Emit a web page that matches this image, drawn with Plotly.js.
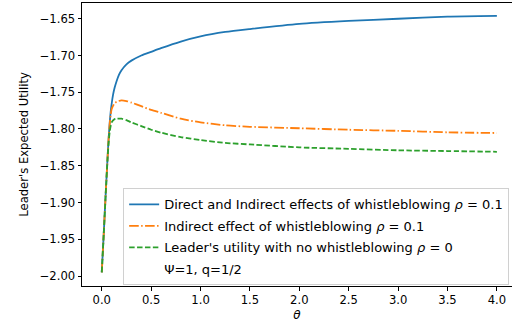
<!DOCTYPE html>
<html>
<head>
<meta charset="utf-8">
<script src="https://cdn.plot.ly/plotly-3.0.1.min.js"></script>
<style>html,body{margin:0;padding:0;background:#fff;}#chart{width:512px;height:325px;}</style>
</head>
<body>
<div id="chart"></div>
<script>
// theta values for each series
var thetaBlue = [0, 0.02, 0.04, 0.06, 0.07, 0.08, 0.09, 0.1, 0.115, 0.13, 0.15, 0.175, 0.2, 0.25, 0.3, 0.4, 0.5, 0.6, 0.8, 1.0, 1.25, 1.5, 2.0, 2.5, 3.0, 3.5, 4.0];
var directIndirect = [-1.995, -1.943, -1.888, -1.836, -1.812, -1.792, -1.777, -1.766, -1.753, -1.744, -1.735, -1.726, -1.720, -1.712, -1.707, -1.700, -1.695, -1.690, -1.681, -1.674, -1.668, -1.664, -1.657, -1.653, -1.650, -1.647, -1.646];

var thetaOrange = [0, 0.02, 0.04, 0.06, 0.07, 0.08, 0.09, 0.1, 0.125, 0.15, 0.2, 0.25, 0.3, 0.4, 0.5, 0.6, 0.8, 1.0, 1.25, 1.5, 2.0, 2.5, 3.0, 3.5, 4.0];
var indirectOnly = [-1.995, -1.943, -1.888, -1.836, -1.812, -1.794, -1.781, -1.773, -1.766, -1.763, -1.761, -1.762, -1.764, -1.769, -1.774, -1.778, -1.786, -1.791, -1.795, -1.797, -1.799, -1.801, -1.8025, -1.8045, -1.8055];

var thetaGreen = [0, 0.02, 0.04, 0.06, 0.07, 0.08, 0.09, 0.1, 0.125, 0.15, 0.2, 0.25, 0.3, 0.4, 0.5, 0.6, 0.8, 1.0, 1.25, 1.5, 2.0, 2.5, 3.0, 3.5, 4.0];
var noWhistle = [-1.995, -1.943, -1.888, -1.838, -1.818, -1.804, -1.796, -1.791, -1.787, -1.786, -1.786, -1.788, -1.791, -1.796, -1.801, -1.805, -1.811, -1.815, -1.819, -1.821, -1.825, -1.827, -1.829, -1.830, -1.831];

var seriesNames = [
  "Direct and Indirect effects of whistleblowing <i>ρ</i> = 0.1",
  "Indirect effect of whistleblowing <i>ρ</i> = 0.1",
  "Leader's utility with no whistleblowing <i>ρ</i> = 0",
  "Ψ=1, q=1/2"
];
var yTickVals = [-2.00, -1.95, -1.90, -1.85, -1.80, -1.75, -1.70, -1.65];
var yTickText = ["−2.00", "−1.95", "−1.90", "−1.85", "−1.80", "−1.75", "−1.70", "−1.65"];
var xTickVals = [0, 0.5, 1, 1.5, 2, 2.5, 3, 3.5, 4];
var xTickText = ["0.0", "0.5", "1.0", "1.5", "2.0", "2.5", "3.0", "3.5", "4.0"];

var traces = [
  {x: thetaBlue, y: directIndirect, mode: 'lines', name: seriesNames[0], legendgroup: 'a', line: {color: '#1f77b4', width: 1.8, shape: 'spline', smoothing: 0.6}},
  {x: thetaOrange, y: indirectOnly, mode: 'lines', name: seriesNames[1], legendgroup: 'b', line: {color: '#ff7f0e', width: 1.8, dash: '9.6px,2.4px,1.5px,2.4px', shape: 'spline', smoothing: 0.6}},
  {x: thetaGreen, y: noWhistle, mode: 'lines', name: seriesNames[2], legendgroup: 'c', line: {color: '#2ca02c', width: 1.8, dash: '5.5px,2.4px', shape: 'spline', smoothing: 0.6}},
  {x: [null], y: [null], mode: 'lines', name: seriesNames[3], legendgroup: 'd', line: {color: 'rgba(0,0,0,0)', width: 0}, showlegend: true}
];

var fam = 'DejaVu Sans, sans-serif';
var layout = {
  width: 512, height: 325,
  margin: {l: 81.5, r: 0, t: 3.3, b: 39.3, pad: 0},
  paper_bgcolor: '#fff', plot_bgcolor: '#fff',
  font: {family: fam, size: 11.6, color: '#000'},
  showlegend: true,
  legend: {x: 0.0957, y: 0.345, xanchor: 'left', yanchor: 'top', traceorder: 'grouped', tracegroupgap: 1.6,
    bgcolor: 'rgba(255,255,255,0.8)', bordercolor: '#d0d0d0', borderwidth: 1, font: {family: fam, size: 13, color: '#000'}},
  xaxis: {
    range: [-0.2, 4.153], tickvals: xTickVals, ticktext: xTickText,
    showgrid: false, zeroline: false, showline: true, linecolor: '#000', linewidth: 1, mirror: true,
    ticks: 'outside', ticklen: 3.5, tickwidth: 1, tickcolor: '#000', tickfont: {family: fam, size: 11.6},
    title: {text: '<i>θ</i>', font: {family: fam, size: 12}, standoff: 4}
  },
  yaxis: {
    range: [-2.0136, -1.6286], tickvals: yTickVals, ticktext: yTickText,
    showgrid: false, zeroline: false, showline: true, linecolor: '#000', linewidth: 1, mirror: false,
    ticks: 'outside', ticklen: 3.5, tickwidth: 1, tickcolor: '#000', tickfont: {family: fam, size: 11.6},
    title: {text: "Leader's Expected Utility", font: {family: fam, size: 11.6}, standoff: 8}
  }
};
Plotly.newPlot('chart', traces, layout, {displayModeBar: false, staticPlot: true});
</script>
</body>
</html>
